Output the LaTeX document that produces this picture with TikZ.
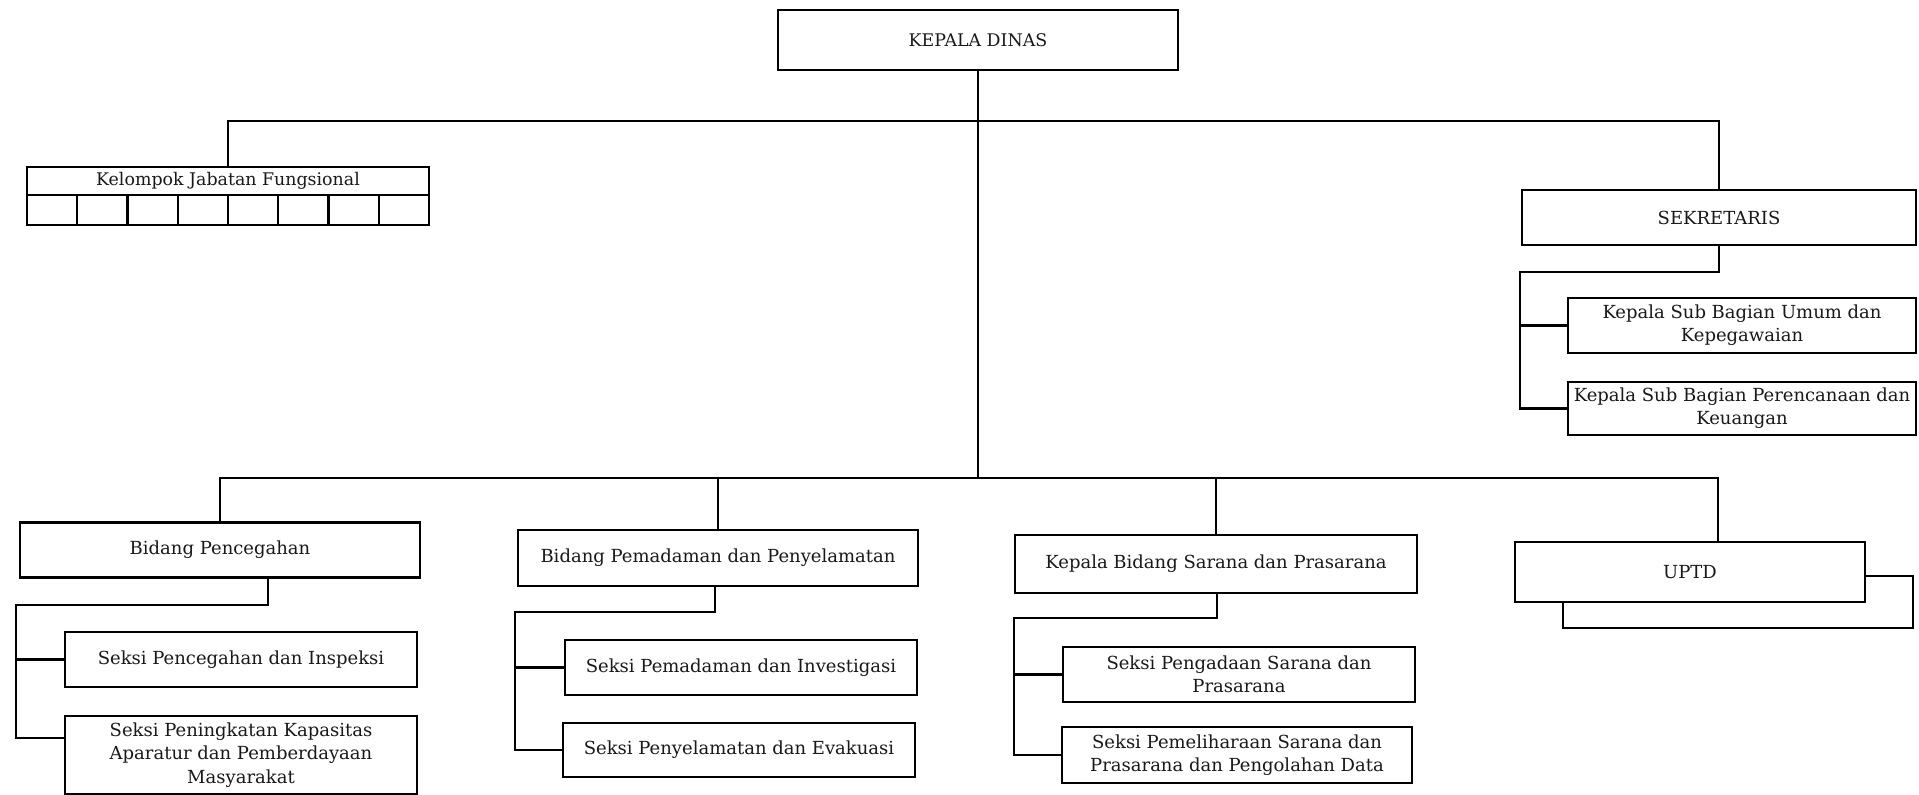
\documentclass[tikz,border=0pt]{standalone}
\usepackage{fontspec}
\setmainfont{DejaVu Serif}
\begin{document}
\begin{tikzpicture}[x=0.5pt,y=-0.5pt,
  box/.style={draw=black, line width=1.15pt, fill=white, rectangle, inner sep=1pt,
    align=center, font=\fontsize{9}{11.6}\selectfont, text=black!90},
  cell/.style={draw=black, line width=1.15pt, fill=white, rectangle, inner sep=0pt},
  sz/.style 2 args={minimum width=#1*0.5pt, minimum height=#2*0.5pt},
  link/.style={draw=black, line width=1.15pt},
]
\useasboundingbox (0,0) rectangle (1919,795);
\fill[white] (0,0) rectangle (1919,795);

% top level
\node[box, sz={400}{60}, font=\fontsize{8.7}{10}\selectfont] (kd) at (978,40) {KEPALA DINAS};

% functional group with its row of empty cells
\node[box, sz={402}{28}, font=\fontsize{8.7}{10}\selectfont] (kjf) at (228,181) {Kelompok Jabatan Fungsional};
\foreach \i in {1,...,8}
  \node[cell, sz={50.25}{30}] (c\i) at ({27+50.25*(\i-0.5)},210) {};

% secretariat
\node[box, sz={394}{55}] (sek) at (1719,217.5) {SEKRETARIS};
\node[box, sz={348}{55}] (sb1) at (1742,325.5) {Kepala Sub Bagian Umum dan\\Kepegawaian};
\node[box, sz={348}{53}] (sb2) at (1742,408.5) {Kepala Sub Bagian Perencanaan dan\\Keuangan};

% divisions
\node[box, sz={400}{55}] (bp) at (220,550) {Bidang Pencegahan};
\node[box, sz={352}{55}] (s11) at (241,659.5) {Seksi Pencegahan dan Inspeksi};
\node[box, sz={352}{78}] (s12) at (241,755) {Seksi Peningkatan Kapasitas\\Aparatur dan Pemberdayaan\\Masyarakat};

\node[box, sz={400}{56}] (bpm) at (718,558) {Bidang Pemadaman dan Penyelamatan};
\node[box, sz={352}{55}] (s21) at (741,667.5) {Seksi Pemadaman dan Investigasi};
\node[box, sz={352}{54}] (s22) at (739,750) {Seksi Penyelamatan dan Evakuasi};

\node[box, sz={402}{58}] (bs) at (1216,564) {Kepala Bidang Sarana dan Prasarana};
\node[box, sz={352}{55}] (s31) at (1239,674.5) {Seksi Pengadaan Sarana dan\\Prasarana};
\node[box, sz={350}{56}] (s32) at (1237,755) {Seksi Pemeliharaan Sarana dan\\Prasarana dan Pengolahan Data};

\node[box, sz={350}{52}] (uptdb) at (1738,602) {};
\node[box, sz={350}{60}] (uptd) at (1690,572) {UPTD};

% upper bus
\coordinate (tbL) at (228,121);
\coordinate (tbR) at (1719,121);
\draw[link] (kjf.north) -- (tbL) -- (tbR) -- (sek.north);

% lower bus
\coordinate (bbL) at (220,478);
\coordinate (bbR) at (1718,478);
\draw[link] (kd.south) -- (kd.south |- bbL);
\draw[link] (bp.north) -- (bbL) -- (bbR) -- (bbR |- uptd.north);
\draw[link] (bpm.north) -- (bpm.north |- bbL);
\draw[link] (bs.north) -- (bs.north |- bbL);

% secretariat sub-sections
\coordinate (skJ) at (1719,272);
\coordinate (skL) at (1520,272);
\draw[link] (sek.south) -- (skJ) -- (skL) -- (skL |- sb2.west) -- (sb2.west);
\draw[link] (skL |- sb1.west) -- (sb1.west);

% sections of Bidang Pencegahan
\coordinate (bpJ) at (268,605);
\coordinate (bpL) at (16,605);
\draw[link] (bp.south -| bpJ) -- (bpJ) -- (bpL) -- (bpL |- 0,738) -- (s12.west |- 0,738);
\draw[link] (bpL |- s11.west) -- (s11.west);

% sections of Bidang Pemadaman
\coordinate (pmJ) at (715,612);
\coordinate (pmL) at (515,612);
\draw[link] (bpm.south -| pmJ) -- (pmJ) -- (pmL) -- (pmL |- s22.west) -- (s22.west);
\draw[link] (pmL |- s21.west) -- (s21.west);

% sections of Bidang Sarana
\coordinate (bsJ) at (1217,618);
\coordinate (bsL) at (1014,618);
\draw[link] (bs.south -| bsJ) -- (bsJ) -- (bsL) -- (bsL |- s32.west) -- (s32.west);
\draw[link] (bsL |- s31.west) -- (s31.west);
\end{tikzpicture}
\end{document}
